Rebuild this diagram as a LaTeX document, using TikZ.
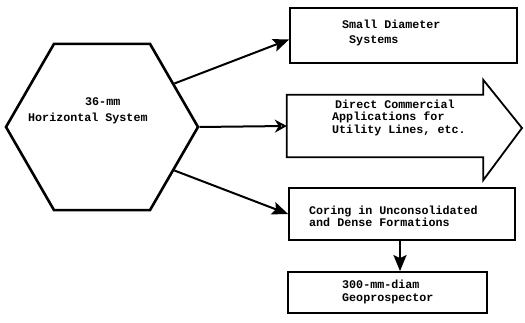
\documentclass[tikz,border=0pt]{standalone}
\usepackage{fontspec}
\setmonofont{Liberation Mono}
\usetikzlibrary{arrows.meta,calc,shapes.geometric}
\begin{document}
\begin{tikzpicture}[x=1pt,y=-1pt,
  hexa/.style={draw,line width=2.6pt,regular polygon,regular polygon sides=6,minimum size=192pt,inner sep=0pt},
  box/.style={draw,line width=1.8pt,rectangle,inner sep=0pt},
  txt/.style={font=\ttfamily\bfseries\fontsize{11.7}{13}\selectfont,align=left,anchor=west,inner sep=0pt},
  conn/.style={line width=2pt,-{Stealth[length=16pt,width=13pt,inset=3pt]}},
  openconn/.style={line width=2pt,-{Stealth[open,length=12pt,width=13pt,inset=4pt,line width=2pt]}}]
\useasboundingbox (0,0) rectangle (525,323);
\node[hexa] (hex) at (102,127) {};
\node[txt,font=\ttfamily\bfseries\fontsize{11.7}{16}\selectfont] (th) at (28,111) {\hspace*{57pt}36-mm\\Horizontal System};
\node[box,minimum width=227pt,minimum height=55pt] (b1) at (403.5,35.5) {};
\node[txt,font=\ttfamily\bfseries\fontsize{11.7}{15}\selectfont] (t1) at (342,32.5) {Small Diameter\\\ Systems};
\node[minimum width=196pt,minimum height=62pt,inner sep=0pt] (b2) at (385,126) {};
\draw[line width=1.8pt,line join=miter] (b2.north east) -- (b2.north west) -- (b2.south west) -- (b2.south east)
  -- ($(b2.south east)+(0,23)$) -- (522,128) -- ($(b2.north east)+(0,-15)$) -- cycle;
\node[txt,font=\ttfamily\bfseries\fontsize{11.7}{12.5}\selectfont] (t2) at (332,117.5) {\hspace*{3pt}Direct Commercial\\Applications for\\Utility Lines, etc.};
\node[box,minimum width=226pt,minimum height=52pt] (b3) at (402,214) {};
\node[txt,font=\ttfamily\bfseries\fontsize{11.7}{12}\selectfont] (t3) at (309,216) {Coring in Unconsolidated\\and Dense Formations};
\node[box,minimum width=199pt,minimum height=41pt] (b4) at (387.5,292.5) {};
\node[txt] (t4) at (342,291.5) {300-mm-diam\\Geoprospector};
\draw[conn] (hex.31) -- ($(b1.west)+(0,4)$);
\draw[openconn] (hex.east) -- (b2.west);
\draw[conn] (hex.-31) -- (b3.west);
\draw[conn] ($(b3.south)+(-2,0)$) -- ($(b4.north)+(12.5,0)$);
\end{tikzpicture}
\end{document}
